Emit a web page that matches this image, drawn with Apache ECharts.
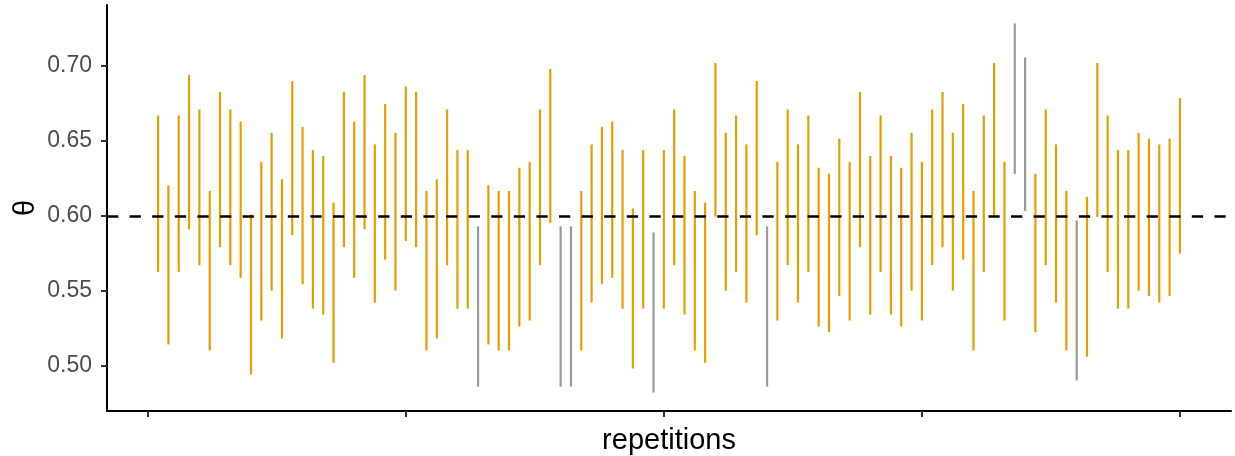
<!DOCTYPE html>
<html>
<head>
<meta charset="utf-8">
<script src="https://cdn.jsdelivr.net/npm/echarts@6/dist/echarts.min.js"></script>
<style>html,body{margin:0;padding:0;background:#fff;}#c{width:1235px;height:456px;}</style>
</head>
<body>
<div id="c"></div>
<script>
const repetitions = Array.from({length: 100}, (_, i) => i + 1);
const lower = [
0.5625,0.514,0.5625,0.591,0.567,0.510,0.579,0.567,0.5586,0.494,
0.530,0.550,0.518,0.587,0.5543,0.538,0.534,0.5018,0.579,0.5586,
0.591,0.542,0.5707,0.550,0.5832,0.579,0.510,0.518,0.567,0.538,
0.538,0.4859,0.514,0.510,0.510,0.526,0.530,0.567,0.5953,0.4859,
0.4859,0.510,0.542,0.5543,0.5586,0.538,0.498,0.538,0.4819,0.538,
0.567,0.534,0.510,0.5018,0.5993,0.550,0.5625,0.542,0.587,0.4859,
0.530,0.567,0.542,0.5625,0.526,0.5222,0.5464,0.530,0.579,0.534,
0.5625,0.534,0.526,0.550,0.530,0.567,0.579,0.550,0.5707,0.510,
0.5625,0.5993,0.530,0.6281,0.6033,0.5222,0.567,0.542,0.510,0.490,
0.5058,0.5993,0.5625,0.538,0.538,0.550,0.5464,0.542,0.5464,0.5747
];
const upper = [
0.667,0.6204,0.667,0.694,0.671,0.6166,0.6827,0.671,0.663,0.6008,
0.636,0.6554,0.6244,0.690,0.6594,0.6439,0.640,0.6089,0.6827,0.663,
0.694,0.6477,0.6747,0.6554,0.6864,0.6827,0.6166,0.6244,0.671,0.6439,
0.6439,0.5929,0.6204,0.6166,0.6166,0.6321,0.636,0.671,0.698,0.5929,
0.5929,0.6166,0.6477,0.6594,0.663,0.6439,0.6049,0.6439,0.5889,0.6439,
0.671,0.640,0.6166,0.6089,0.702,0.6554,0.667,0.6477,0.690,0.5929,
0.636,0.671,0.6477,0.667,0.6321,0.6281,0.6516,0.636,0.6827,0.640,
0.667,0.640,0.6321,0.6554,0.636,0.671,0.6827,0.6554,0.6747,0.6166,
0.667,0.702,0.636,0.7285,0.7057,0.6281,0.671,0.6477,0.6166,0.5969,
0.6126,0.702,0.667,0.6439,0.6439,0.6554,0.6516,0.6477,0.6516,0.6787
];
const truth = 0.6;
const yTicks = [0.50, 0.55, 0.60, 0.65, 0.70];
const xTicks = [0, 25, 50, 75, 100];

const data = repetitions.map((r, i) => [r, lower[i], upper[i], (lower[i] <= truth && upper[i] >= truth) ? 1 : 0]);
const FONT = 'Liberation Sans, Arial, Helvetica, sans-serif';

const chart = echarts.init(document.getElementById('c'), null, {renderer: 'canvas'});
chart.setOption({
  animation: false,
  backgroundColor: '#ffffff',
  grid: {left: 107, right: 4, top: 5, bottom: 45, containLabel: false, outerBoundsMode: 'none'},
  xAxis: {
    type: 'value', min: -3.95, max: 104.95,
    name: 'repetitions', nameLocation: 'middle', nameGap: 15, nameMoveOverlap: false,
    nameTextStyle: {fontFamily: FONT, fontSize: 29, color: '#000'},
    axisLine: {show: true, onZero: false, lineStyle: {color: '#000', width: 2}},
    axisTick: {show: true, length: 6, customValues: xTicks, lineStyle: {color: '#333', width: 2}},
    axisLabel: {show: false},
    splitLine: {show: false}
  },
  yAxis: {
    type: 'value', min: 0.4696, max: 0.7408,
    name: 'θ', nameLocation: 'middle', nameGap: 67, nameRotate: 90, nameMoveOverlap: false,
    nameTextStyle: {fontFamily: FONT, fontSize: 29, color: '#000'},
    axisLine: {show: true, onZero: false, lineStyle: {color: '#000', width: 2}},
    axisTick: {show: true, length: 6, customValues: yTicks, lineStyle: {color: '#333', width: 2}},
    axisLabel: {show: true, customValues: yTicks, margin: 15, fontFamily: FONT, fontSize: 23, color: '#4d4d4d',
      formatter: v => Number(v).toFixed(2)},
    splitLine: {show: false}
  },
  series: [{
    type: 'custom',
    data: data,
    encode: {x: 0, y: [1, 2]},
    renderItem: function (params, api) {
      const x = api.value(0);
      const p1 = api.coord([x, api.value(1)]);
      const p2 = api.coord([x, api.value(2)]);
      return {
        type: 'line',
        shape: {x1: p1[0], y1: p1[1], x2: p2[0], y2: p2[1]},
        style: {stroke: api.value(3) ? '#E69F00' : '#999999', lineWidth: 2.2, lineCap: 'butt'}
      };
    },
    markLine: {
      silent: true, symbol: 'none', label: {show: false},
      lineStyle: {color: '#000', width: 2.5, type: [11.3, 11.3]},
      data: [{yAxis: truth}]
    },
    z: 2
  }]
});
</script>
</body>
</html>
